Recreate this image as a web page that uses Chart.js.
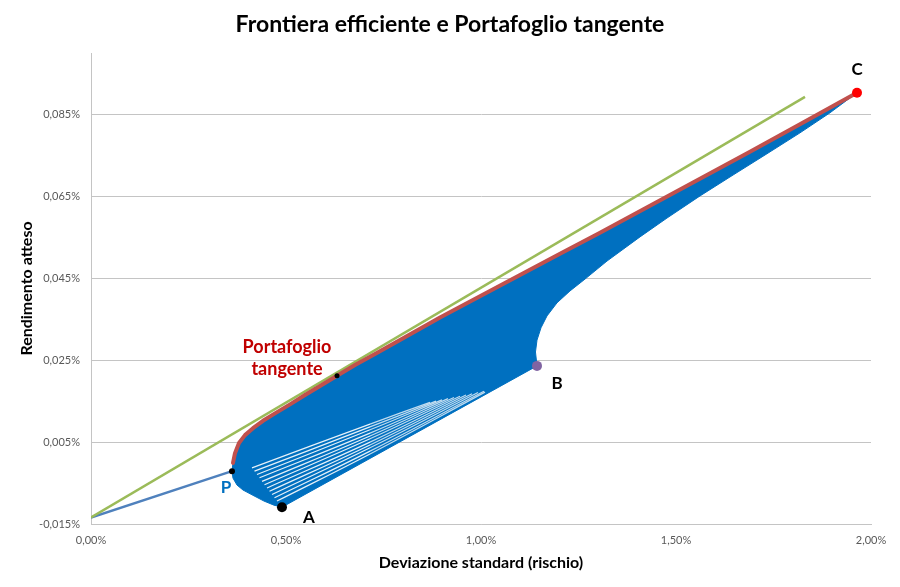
<!DOCTYPE html>
<html><head><meta charset="utf-8">
<script src="https://cdn.jsdelivr.net/npm/chart.js@4/dist/chart.umd.min.js"></script>
<style>html,body{margin:0;padding:0;background:#fff}#wrap{width:900px;height:587px}</style>
</head><body><div id="wrap"><canvas id="c" width="900" height="587"></canvas></div>
<script>
// ---- tick values and labels ----
const xTicks = [0, 0.5, 1, 1.5, 2];
const xTickLabels = ['0,00%', '0,50%', '1,00%', '1,50%', '2,00%'];
const yTicks = [-0.015, 0.005, 0.025, 0.045, 0.065, 0.085];
const yTickLabels = ['-0,015%', '0,005%', '0,025%', '0,045%', '0,065%', '0,085%'];

// ---- lines from the risk-free asset (x = std dev %, y = expected return %) ----
const cmlX = [0, 0.3615];            // risk-free -> P
const cmlY = [-0.0134, -0.0021];
const tangentLineX = [0, 1.8308];    // risk-free -> through tangent portfolio
const tangentLineY = [-0.0134, 0.0893];

// ---- efficient frontier (upper boundary), from P up to C ----
const frontierX = [0.3641, 0.3692, 0.3795, 0.3949, 0.4154, 0.4410, 0.4718, 0.5103, 0.5487, 0.5872,
                   0.6308, 0.6769, 0.7282, 0.7923, 0.8949, 0.9974, 1.1000, 1.2026, 1.3051, 1.4333,
                   1.5615, 1.6897, 1.8179, 1.9641];
const frontierY = [-0.0001, 0.0023, 0.0048, 0.0067, 0.0084, 0.0102, 0.0120, 0.0142, 0.0165, 0.0187,
                   0.0212, 0.0238, 0.0265, 0.0299, 0.0354, 0.0406, 0.0458, 0.0510, 0.0561, 0.0627,
                   0.0693, 0.0759, 0.0826, 0.0903];

// ---- lower-right boundary, from B up to C ----
const rightEdgeX = [1.1436, 1.1397, 1.1436, 1.1538, 1.1692, 1.1949, 1.2282, 1.2667, 1.3231, 1.4077,
                    1.4769, 1.5615, 1.6462, 1.7333, 1.8179, 1.8949, 1.9641];
const rightEdgeY = [0.0236, 0.0270, 0.0299, 0.0329, 0.0358, 0.0390, 0.0419, 0.0448, 0.0492, 0.0551,
                    0.0597, 0.0651, 0.0702, 0.0754, 0.0805, 0.0854, 0.0903];

// ---- lower-left boundary, from P down to A ----
const leftEdgeX = [0.3615, 0.3641, 0.3744, 0.3897, 0.4154, 0.4436, 0.4692, 0.4897];
const leftEdgeY = [-0.0021, -0.0038, -0.0055, -0.0067, -0.0080, -0.0094, -0.0104, -0.0109];

// ---- thin white gaps between the combination curves ----
const stripeStartX = [0.4128, 0.4192, 0.4256, 0.4321, 0.4385, 0.4449, 0.4513, 0.4577, 0.4641, 0.4705, 0.4769];
const stripeStartY = [-0.0013, -0.0021, -0.0029, -0.0037, -0.0046, -0.0054, -0.0062, -0.0070, -0.0078, -0.0086, -0.0094];
const stripeMidX = [0.7154, 0.7154, 0.7154, 0.7154, 0.7154, 0.7154, 0.7154, 0.7154, 0.7154, 0.7154, 0.7154];
const stripeMidY = [0.0094, 0.0087, 0.0080, 0.0072, 0.0065, 0.0058, 0.0050, 0.0043, 0.0036, 0.0028, 0.0021];
const stripeEndX = [0.8692, 0.8846, 0.9000, 0.9154, 0.9308, 0.9462, 0.9615, 0.9769, 0.9923, 1.0077, 1.0103];
const stripeEndY = [0.0147, 0.0150, 0.0153, 0.0156, 0.0159, 0.0162, 0.0165, 0.0168, 0.0171, 0.0174, 0.0172];

// ---- key portfolios ----
const keyNames = ['P', 'T', 'A', 'B', 'C'];
const keyX = [0.3615, 0.6308, 0.4897, 1.1436, 1.9641];
const keyY = [-0.0021, 0.0212, -0.0109, 0.0236, 0.0903];

// ---- styles (kept separate from data) ----
const keyStyle = {
  P: { color: '#000000', r: 3 },
  T: { color: '#000000', r: 2.5 },
  A: { color: '#000000', r: 5 },
  B: { color: '#8064a2', r: 5 },
  C: { color: '#ff0000', r: 5 }
};
const annotations = [
  { text: 'P', x: 0.3462, y: -0.0062, color: '#0070c0', size: 17 },
  { text: 'A', x: 0.5590, y: -0.0133, color: '#000000', size: 17 },
  { text: 'B', x: 1.1949, y: 0.0194, color: '#000000', size: 17 },
  { text: 'C', x: 1.9641, y: 0.0959, color: '#000000', size: 17 },
  { text: 'Portafoglio', x: 0.5026, y: 0.0282, color: '#c00000', size: 18 },
  { text: 'tangente', x: 0.5026, y: 0.0229, color: '#c00000', size: 18 }
];

const zip = (xs, ys) => xs.map((x, i) => ({ x, y: ys[i] }));

// polygon of the feasible region: A -> B -> right edge -> C -> frontier back -> P -> left edge -> A
const regionPts = []
  .concat([{ x: leftEdgeX[leftEdgeX.length - 1], y: leftEdgeY[leftEdgeY.length - 1] }])
  .concat(zip(rightEdgeX, rightEdgeY))
  .concat(zip(frontierX, frontierY).reverse())
  .concat(zip(leftEdgeX, leftEdgeY));

const stripeSets = stripeStartX.map((sx, i) => ({
  data: [{ x: sx, y: stripeStartY[i] }, { x: stripeMidX[i], y: stripeMidY[i] }, { x: stripeEndX[i], y: stripeEndY[i] }],
  showLine: true, borderColor: 'rgba(255,255,255,0.9)', borderWidth: 1.2, pointRadius: 0, tension: 0.4, fill: false,
  segment: { borderColor: c => c.p0DataIndex === 0 ? 'rgba(255,255,255,0.9)' : 'rgba(255,255,255,0.75)' }
}));

const FONT = 'Lato, "Open Sans", sans-serif';
Chart.defaults.font.family = FONT;

const labelPlugin = {
  id: 'labels',
  afterDatasetsDraw(chart) {
    const { ctx, scales: { x, y } } = chart;
    ctx.save();
    ctx.textAlign = 'center';
    ctx.textBaseline = 'middle';
    annotations.forEach(a => {
      ctx.font = 'bold ' + a.size + 'px ' + FONT;
      ctx.fillStyle = a.color;
      ctx.fillText(a.text, x.getPixelForValue(a.x), y.getPixelForValue(a.y));
    });
    ctx.restore();
  }
};

new Chart(document.getElementById('c'), {
  type: 'scatter',
  data: {
    datasets: [
      {
        data: zip(keyX, keyY), showLine: false,
        pointRadius: keyNames.map(n => keyStyle[n].r),
        pointBackgroundColor: keyNames.map(n => keyStyle[n].color),
        pointBorderColor: keyNames.map(n => keyStyle[n].color),
        pointBorderWidth: 0
      },
      {
        data: zip(frontierX, frontierY), showLine: true,
        borderColor: '#c0504d', borderWidth: 4, pointRadius: 0, tension: 0, fill: false,
        borderCapStyle: 'round', borderJoinStyle: 'round'
      },
      {
        data: zip(tangentLineX, tangentLineY), showLine: true,
        borderColor: '#9bbb59', borderWidth: 2.5, pointRadius: 0, fill: false
      },
      {
        data: zip(cmlX, cmlY), showLine: true,
        borderColor: '#4f81bd', borderWidth: 2.5, pointRadius: 0, fill: false
      },
      ...stripeSets,
      {
        data: regionPts, showLine: true,
        borderColor: '#0070c0', borderWidth: 1, backgroundColor: '#0070c0',
        pointRadius: 0, tension: 0, fill: 'shape'
      }
    ]
  },
  options: {
    responsive: false,
    devicePixelRatio: 1,
    animation: false,
    layout: { padding: { left: 29, right: 29, top: 0, bottom: 0 } },
    plugins: {
      legend: { display: false },
      tooltip: { enabled: false },
      title: {
        display: true,
        text: 'Frontiera efficiente e Portafoglio tangente',
        color: '#000000',
        font: { size: 23, weight: 'bold' },
        padding: { top: 11, bottom: 14.4 }
      }
    },
    scales: {
      x: {
        type: 'linear', min: 0, max: 2,
        afterBuildTicks: axis => { axis.ticks = xTicks.map(v => ({ value: v })); },
        afterFit: axis => { axis.height = 63; },
        grid: { display: false, drawTicks: false },
        border: { display: true, color: '#c4c4c4', width: 1 },
        ticks: {
          autoSkip: false, maxRotation: 0, padding: 10, color: '#595959',
          font: { size: 11 },
          callback: (v, i) => xTickLabels[i]
        },
        title: {
          display: true, text: 'Deviazione standard (rischio)', color: '#000000',
          font: { size: 16, weight: 'bold' }, padding: { top: 0, bottom: 15 }
        }
      },
      y: {
        type: 'linear', min: -0.015, max: 0.1,
        afterBuildTicks: axis => { axis.ticks = yTicks.map(v => ({ value: v })); },
        afterFit: axis => { axis.width = 62; },
        grid: { display: true, drawTicks: false, color: '#c4c4c4', lineWidth: 1 },
        border: { display: true, color: '#c4c4c4', width: 1 },
        ticks: {
          autoSkip: false, padding: 11, color: '#595959',
          font: { size: 11 },
          callback: (v, i) => yTickLabels[i]
        },
        title: {
          display: true, text: 'Rendimento atteso', color: '#000000',
          font: { size: 16, weight: 'bold' }, padding: { top: -12, bottom: 0 }
        }
      }
    }
  },
  plugins: [labelPlugin]
});
</script></body></html>
